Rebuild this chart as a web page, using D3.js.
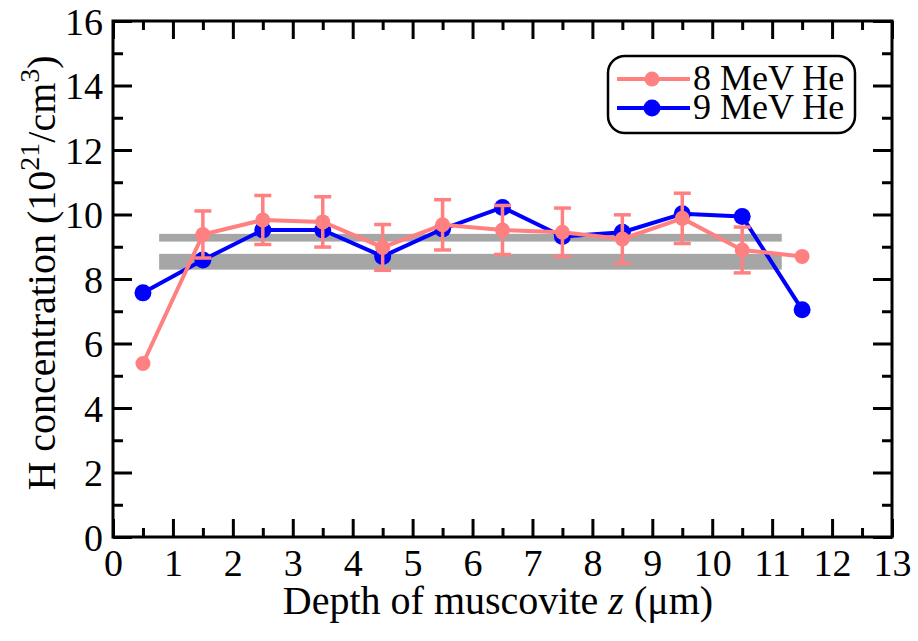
<!DOCTYPE html>
<html><head><meta charset="utf-8">
<script src="https://cdn.jsdelivr.net/npm/d3@7"></script>
<style>
body{margin:0;background:#fff;}
</style></head>
<body><svg id="c" width="918" height="641"></svg>
<script>
// Data
const depth = [0.5,1.5,2.5,3.5,4.5,5.5,6.5,7.5,8.5,9.5,10.5,11.5];
const he8 = [5.38,9.38,9.83,9.77,8.98,9.68,9.52,9.45,9.24,9.88,8.90,8.70];
const he8Err = [null,0.73,0.76,0.78,0.71,0.78,0.76,0.75,0.75,0.78,0.71,null];
const he9 = [7.57,8.59,9.52,9.52,8.70,9.55,10.22,9.32,9.45,10.02,9.94,7.05];
const bandX = [0.77,11.16];
const bandLow = [9.16,8.29];
const bandHigh = [9.40,8.78];
const seriesNames = ["8 MeV He","9 MeV He"];
const xTicks = d3.range(0,14,1);
const yTicks = d3.range(0,17,2);

const FONT = "Liberation Serif";
const svg = d3.select("#c");
const L=113,R=892,T=21,B=537;
const x = d3.scaleLinear().domain([0,13]).range([L,R]);
const y = d3.scaleLinear().domain([0,16]).range([B,T]);
const pink="#ff8080", blue="#0000ff", gray="#a6a6a6";

// bands
bandLow.forEach((lo,i)=>{
  svg.append("rect").attr("x",x(bandX[0])).attr("width",x(bandX[1])-x(bandX[0]))
    .attr("y",y(bandHigh[i])).attr("height",y(lo)-y(bandHigh[i])).attr("fill",gray);
});

// axes
function styleAx(g){g.attr("font-family",null);g.select(".domain").remove();g.selectAll("line").attr("stroke","#000").attr("stroke-width",3);}
const xMinor = d3.range(0.5,13,1);
const yMinor = d3.range(1,16,2);
svg.append("g").attr("transform",`translate(0,${B})`).call(d3.axisBottom(x).tickValues(xTicks).tickSize(-18).tickFormat(d3.format("d")).tickPadding(12)).call(styleAx)
  .selectAll("text").attr("font-family",FONT).attr("font-size",38).attr("dy","0.72em").attr("fill","#000");
svg.append("g").attr("transform",`translate(0,${B})`).call(d3.axisBottom(x).tickValues(xMinor).tickSize(-9).tickFormat("")).call(styleAx);
svg.append("g").attr("transform",`translate(0,${T})`).call(d3.axisTop(x).tickValues(xTicks).tickSize(-18).tickFormat("")).call(styleAx);
svg.append("g").attr("transform",`translate(0,${T})`).call(d3.axisTop(x).tickValues(xMinor).tickSize(-9).tickFormat("")).call(styleAx);
svg.append("g").attr("transform",`translate(${L},0)`).call(d3.axisLeft(y).tickValues(yTicks).tickSize(-19).tickFormat(d3.format("d")).tickPadding(10)).call(styleAx)
  .selectAll("text").attr("font-family",FONT).attr("font-size",38).attr("dy","0.35em").attr("fill","#000");
svg.append("g").attr("transform",`translate(${L},0)`).call(d3.axisLeft(y).tickValues(yMinor).tickSize(-10).tickFormat("")).call(styleAx);
svg.append("g").attr("transform",`translate(${R},0)`).call(d3.axisRight(y).tickValues(yTicks).tickSize(-19).tickFormat("")).call(styleAx);
svg.append("g").attr("transform",`translate(${R},0)`).call(d3.axisRight(y).tickValues(yMinor).tickSize(-10).tickFormat("")).call(styleAx);
svg.append("rect").attr("x",L).attr("y",T).attr("width",R-L).attr("height",B-T)
  .attr("fill","none").attr("stroke","#000").attr("stroke-width",3);

// titles
const xt = svg.append("text").attr("font-family",FONT).attr("x",498).attr("y",614).attr("text-anchor","middle").attr("font-size",40);
xt.append("tspan").text("Depth of muscovite ");
xt.append("tspan").attr("font-style","italic").text("z");
xt.append("tspan").text(" (\u03bcm)");
const yt = svg.append("text").attr("font-family",FONT).attr("transform","translate(55,273) rotate(-90)").attr("text-anchor","middle").attr("font-size",40);
yt.append("tspan").text("H concentration (10");
yt.append("tspan").attr("font-size",28).attr("dy",-16).text("21");
yt.append("tspan").attr("dy",16).text("/cm");
yt.append("tspan").attr("font-size",28).attr("dy",-16).text("3");
yt.append("tspan").attr("dy",16).text(")");

const line = d3.line().x((d,i)=>x(depth[i])).y(d=>y(d));

// 9 MeV (blue)
svg.append("path").datum(he9).attr("d",line).attr("fill","none").attr("stroke",blue).attr("stroke-width",4).attr("stroke-linejoin","round");
svg.append("g").selectAll("circle").data(he9).join("circle")
  .attr("cx",(d,i)=>x(depth[i])).attr("cy",d=>y(d)).attr("r",8.5).attr("fill",blue);

// 8 MeV (pink)
svg.append("path").datum(he8).attr("d",line).attr("fill","none").attr("stroke",pink).attr("stroke-width",4).attr("stroke-linejoin","round");
const eg = svg.append("g").attr("stroke",pink).attr("stroke-width",3.5);
he8.forEach((v,i)=>{
  const e=he8Err[i]; if(e==null) return;
  const cx=x(depth[i]);
  eg.append("line").attr("x1",cx).attr("x2",cx).attr("y1",y(v+e)).attr("y2",y(v-e));
  eg.append("line").attr("x1",cx-8.5).attr("x2",cx+8.5).attr("y1",y(v+e)).attr("y2",y(v+e));
  eg.append("line").attr("x1",cx-8.5).attr("x2",cx+8.5).attr("y1",y(v-e)).attr("y2",y(v-e));
});
svg.append("g").selectAll("circle").data(he8).join("circle")
  .attr("cx",(d,i)=>x(depth[i])).attr("cy",d=>y(d)).attr("r",7.5).attr("fill",pink);

// legend
svg.append("rect").attr("x",608).attr("y",56).attr("width",247).attr("height",77).attr("rx",17)
  .attr("fill","#fff").attr("stroke","#000").attr("stroke-width",2.5);
[[pink,7.5],[blue,8.5]].forEach(([c,r],i)=>{
  const ly = 79 + i*29;
  svg.append("line").attr("x1",617).attr("x2",690).attr("y1",ly).attr("y2",ly).attr("stroke",c).attr("stroke-width",4);
  svg.append("circle").attr("cx",652).attr("cy",ly).attr("r",r).attr("fill",c);
  svg.append("text").attr("font-family",FONT).attr("x",693).attr("y",ly+11).attr("font-size",36).text(seriesNames[i]);
});
</script></body></html>
